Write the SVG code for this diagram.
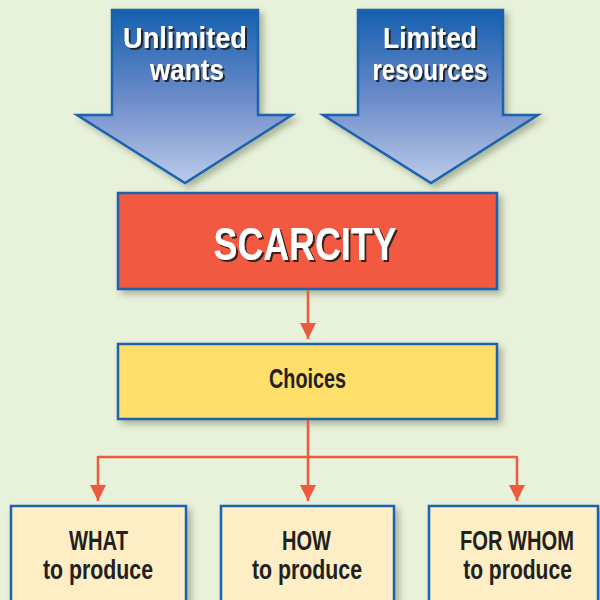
<svg xmlns="http://www.w3.org/2000/svg" width="600" height="600" viewBox="0 0 600 600">
<defs>
<linearGradient id="ag" x1="0" y1="0" x2="0" y2="1">
<stop offset="0" stop-color="#1460b0"/>
<stop offset="0.5" stop-color="#6a8ac8"/>
<stop offset="1" stop-color="#bccbea"/>
</linearGradient>
<filter id="sh" x="-10%" y="-10%" width="130%" height="130%">
<feDropShadow dx="4" dy="4" stdDeviation="3" flood-color="#5a6a50" flood-opacity="0.45"/>
</filter>
<filter id="ts" x="-10%" y="-20%" width="130%" height="150%">
<feDropShadow dx="2" dy="2" stdDeviation="0.4" flood-color="#1a1a1a" flood-opacity="0.9"/>
</filter>
<marker id="ah" viewBox="0 0 10 10" refX="10" refY="5" markerWidth="16" markerHeight="16" markerUnits="userSpaceOnUse" orient="auto">
<path d="M0,0 L10,5 L0,10 Z" fill="#ee5a3e"/>
</marker>
</defs>
<style>
.t{font-family:"Liberation Sans",Arial,sans-serif;font-weight:bold;text-anchor:middle}
.w{fill:#ffffff}
.d{fill:#231f20}
.box{stroke:#1a62ae;stroke-width:2.5}
.arrow{fill:url(#ag);stroke:#1a62ae;stroke-width:2.5;stroke-linejoin:miter}
.c{fill:none;stroke:#ee5a3e;stroke-width:2.5}
</style>
<rect x="0" y="0" width="600" height="600" fill="#e8f1d9"/>

<g id="unlimited-wants">
<path class="arrow" filter="url(#sh)" d="M112,10 L258,10 L258,115 L292,115 L185,183 L77,115 L112,115 Z"/>
<text class="t w" filter="url(#ts)" x="185" y="48" font-size="29" textLength="124" lengthAdjust="spacingAndGlyphs">Unlimited</text>
<text class="t w" filter="url(#ts)" x="187" y="80" font-size="29" textLength="74" lengthAdjust="spacingAndGlyphs">wants</text>
</g>

<g id="limited-resources">
<path class="arrow" filter="url(#sh)" d="M358,10 L503,10 L503,115 L538,115 L431,183 L323,115 L358,115 Z"/>
<text class="t w" filter="url(#ts)" x="430" y="48" font-size="29" textLength="94" lengthAdjust="spacingAndGlyphs">Limited</text>
<text class="t w" filter="url(#ts)" x="430" y="80" font-size="29" textLength="115" lengthAdjust="spacingAndGlyphs">resources</text>
</g>

<g id="scarcity">
<rect class="box" filter="url(#sh)" x="118" y="193" width="379" height="96" fill="#f15a40"/>
<text class="t w" filter="url(#ts)" x="305" y="260" font-size="46" textLength="183" lengthAdjust="spacingAndGlyphs">SCARCITY</text>
</g>

<g id="choices">
<rect class="box" filter="url(#sh)" x="118" y="344" width="379" height="75" fill="#fedf6b"/>
<text class="t d" x="307.5" y="388" font-size="28" textLength="77" lengthAdjust="spacingAndGlyphs">Choices</text>
</g>

<g id="what">
<rect class="box" filter="url(#sh)" x="11" y="506" width="175" height="110" fill="#fdeec6"/>
<text class="t d" x="98.5" y="550" font-size="28" textLength="59" lengthAdjust="spacingAndGlyphs">WHAT</text>
<text class="t d" x="98" y="579" font-size="28" textLength="110" lengthAdjust="spacingAndGlyphs">to produce</text>
</g>

<g id="how">
<rect class="box" filter="url(#sh)" x="221" y="506" width="173" height="110" fill="#fdeec6"/>
<text class="t d" x="306.5" y="550" font-size="28" textLength="49" lengthAdjust="spacingAndGlyphs">HOW</text>
<text class="t d" x="307" y="579" font-size="28" textLength="110" lengthAdjust="spacingAndGlyphs">to produce</text>
</g>

<g id="for-whom">
<rect class="box" filter="url(#sh)" x="429" y="506" width="169" height="110" fill="#fdeec6"/>
<text class="t d" transform="translate(517,550) scale(0.75,1)" x="0" y="0" font-size="28" textLength="152" lengthAdjust="spacingAndGlyphs">FOR WHOM</text>
<text class="t d" transform="translate(517.5,579) scale(0.75,1)" x="0" y="0" font-size="28" textLength="145" lengthAdjust="spacingAndGlyphs">to produce</text>
</g>

<g id="connectors">
<path class="c" d="M308,290 L308,339" marker-end="url(#ah)"/>
<path class="c" d="M308,420 L308,501" marker-end="url(#ah)"/>
<path class="c" d="M98,457 L517,457"/>
<path class="c" d="M98,456 L98,501" marker-end="url(#ah)"/>
<path class="c" d="M517,456 L517,501" marker-end="url(#ah)"/>
</g>
</svg>
